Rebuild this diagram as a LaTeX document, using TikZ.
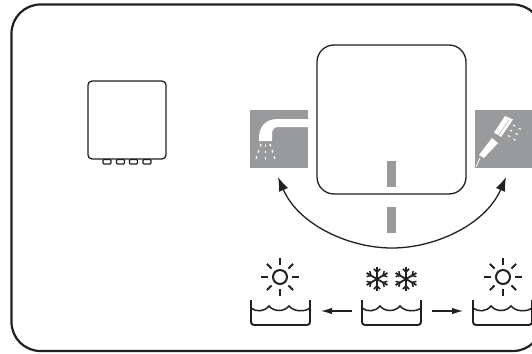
\documentclass[tikz,border=0pt]{standalone}
\usepackage{xcolor}
\usetikzlibrary{arrows.meta}
\definecolor{inkdark}{RGB}{35,31,32}
\definecolor{tilegrey}{RGB}{153,154,156}
\tikzset{
  panelbox/.style={draw=inkdark, line width=1.3pt, rounded corners=#1, inner sep=0pt, outer sep=0pt},
  greytile/.style={fill=tilegrey, minimum size=58pt, inner sep=0pt, outer sep=0pt},
  greybar/.style={fill=tilegrey, minimum width=9pt, minimum height=26pt, inner sep=0pt, outer sep=0pt},
  keybox/.style={draw=inkdark, line width=1.2pt, rounded corners=1pt, minimum width=8pt, minimum height=4.5pt, inner sep=0pt, outer sep=0pt},
  swingarrow/.style={draw=inkdark, line width=1.3pt, {Latex[length=14pt,width=10pt]}-{Latex[length=14pt,width=10pt]}},
  flowarrow/.style={draw=inkdark, line width=1.1pt, -{Latex[length=11pt,width=6.5pt]}},
  spray/.style={draw=white, line width=1.4pt, dash pattern=on 2.5pt off 4pt},
  sunicon/.pic={
    \draw[inkdark, line width=2pt] (0,0) circle (7);
    \foreach \a in {0,90,180,270} \draw[inkdark, line width=2pt] (\a:12) -- (\a:19);
    \foreach \a in {45,135,225,315} \draw[inkdark, line width=2pt] (\a:12) -- (\a:18.5);
  },
  flakeicon/.pic={
    \foreach \a in {30,90,150,210,270,330} {
      \draw[inkdark, line width=1.8pt] (0,0) -- (\a:12);
      \draw[inkdark, line width=1.5pt] (\a:7) -- ++(\a+45:4.5);
      \draw[inkdark, line width=1.5pt] (\a:7) -- ++(\a-45:4.5);
    }
  },
  bowlicon/.pic={
    \draw[inkdark, line width=1.9pt, rounded corners=3pt] (0,0) -- (0,25) -- (59,25) -- (59,0);
    \draw[inkdark, line width=1.5pt] (0,8) .. controls (5,12) and (13,12) .. (18,6) .. controls (23,12) and (33,12) .. (38,6) .. controls (43,12) and (54,12) .. (59,8);
  }
}
\begin{document}
\begin{tikzpicture}[x=1pt,y=-1pt]
\useasboundingbox (0,0) rectangle (532,353);
\begin{scope}
\clip (0,0) rectangle (532,353);
% outer frame runs off the right edge
\draw[inkdark, line width=2.2pt, rounded corners=29pt] (11.5,4.5) rectangle (542,351);
% small unit
\node[panelbox=4pt, minimum size=78pt] (smallunit) at (127,120) {};
\node[keybox, anchor=north] (keya) at (107,159.5) {};
\node[keybox, anchor=north] (keyb) at (120.5,159.5) {};
\node[keybox, anchor=north] (keyc) at (133.5,159.5) {};
\node[keybox, anchor=north] (keyd) at (147,159.5) {};
% large unit
\node[panelbox=17pt, minimum size=149pt] (mainunit) at (391.5,119.5) {};
\node[greybar] (barupper) at (391.5,174) {};
\node[greybar] (barlower) at (391.5,220) {};
% tap tile
\node[greytile] (taptile) at (279,139) {};
\fill[white] (308,119) -- (277,119) .. controls (266,119) and (259,127) .. (259,137) -- (259,141) -- (272,141) -- (272,134) .. controls (272,130) and (274,127) .. (278,127) -- (308,127) -- cycle;
\draw[spray] (261,144) -- (255,162);
\draw[spray] (265.5,144) -- (265.5,162);
\draw[spray] (270,144) -- (276,162);
% shower tile
\node[greytile, minimum width=60pt] (showertile) at (505,139) {};
\fill[white] (505,116) -- (513,119.5) -- (501,137) -- (494,132.5) -- cycle;
\draw[tilegrey, line width=0.6pt, dash pattern=on 1pt off 0.6pt] (509,120) -- (498.5,135);
\fill[white] (492,138) -- (498,143) -- (484,158) -- (479,155) -- cycle;
\draw[white, line width=0.8pt] (480,158) -- (476,167);
\draw[spray, line width=1.1pt] (513,125) -- (524,131);
\draw[spray, line width=1.1pt] (510,130) -- (521,136.5);
\draw[spray, line width=1.1pt] (508,135.5) -- (518,142);
% swing arrow
\coordinate (swingleft) at (278,177);
\coordinate (swingmid) at (392,248);
\coordinate (swingright) at (506,177);
\draw[swingarrow] (swingleft) .. controls (298,224) and (348,248) .. (swingmid) .. controls (436,248) and (486,224) .. (swingright);
% icons along the bottom
\pic at (280,277) {sunicon};
\pic at (503,277) {sunicon};
\pic at (377,279) {flakeicon};
\pic at (406,279) {flakeicon};
\pic at (251,300) {bowlicon};
\pic at (362,300) {bowlicon};
\pic at (473,300) {bowlicon};
\coordinate (flowmidleft) at (352,311);
\coordinate (flowleft) at (321,311);
\coordinate (flowmidright) at (432,311);
\coordinate (flowright) at (463,311);
\draw[flowarrow] (flowmidleft) -- (flowleft);
\draw[flowarrow] (flowmidright) -- (flowright);
\end{scope}
\end{tikzpicture}
\end{document}
